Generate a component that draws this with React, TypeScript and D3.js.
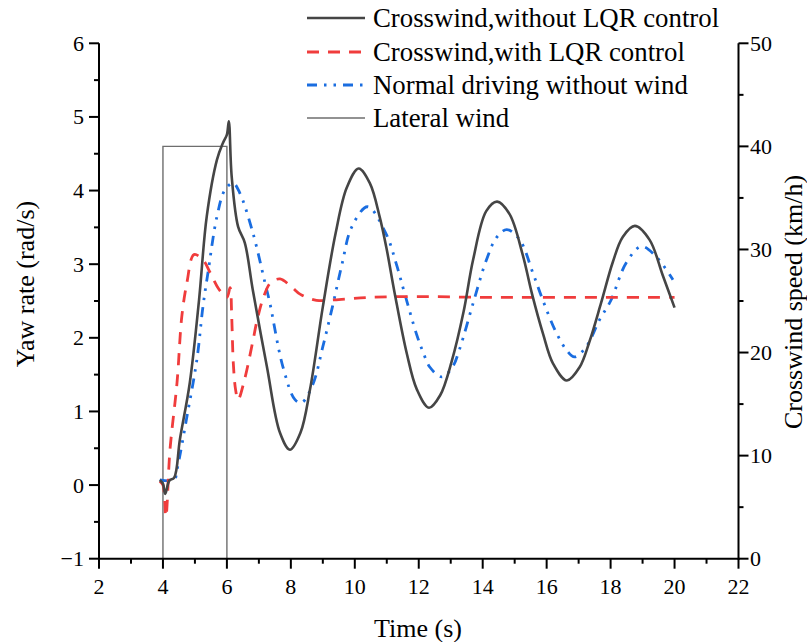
import React from "react";
import * as d3 from "d3";

const timeTicks = [2, 4, 6, 8, 10, 12, 14, 16, 18, 20, 22];
const yawTicks = [-1, 0, 1, 2, 3, 4, 5, 6];
const windTicks = [0, 10, 20, 30, 40, 50];

const seriesNames = [
  "Crosswind,without LQR control",
  "Crosswind,with LQR control",
  "Normal driving without wind",
  "Lateral wind",
];

const blackT = [3.9, 4.0, 4.07, 4.2, 4.35, 4.53, 4.84, 5.13, 5.37, 5.69, 5.88, 6.0, 6.06, 6.15, 6.35, 6.56, 6.81, 7.25, 7.66, 7.97, 8.3, 8.6, 9.0, 9.4, 9.75, 10.12, 10.47, 10.78, 10.99, 11.25, 11.63, 11.94, 12.32, 12.67, 13.03, 13.4, 13.7, 14.11, 14.45, 14.84, 15.25, 15.54, 15.89, 16.2, 16.63, 17.03, 17.34, 17.7, 18.07, 18.38, 18.76, 19.22, 19.63, 20.0];
const blackV = [0.07, 0.02, -0.12, 0.06, 0.1, 0.62, 1.39, 2.52, 3.65, 4.42, 4.65, 4.76, 4.94, 4.19, 3.51, 3.29, 2.65, 1.61, 0.71, 0.48, 0.71, 1.3, 2.42, 3.42, 4.04, 4.3, 4.1, 3.64, 3.22, 2.6, 1.78, 1.3, 1.05, 1.22, 1.68, 2.35, 3.06, 3.72, 3.85, 3.68, 3.13, 2.6, 2.05, 1.65, 1.42, 1.6, 1.95, 2.47, 3.03, 3.37, 3.52, 3.33, 2.85, 2.41];

const redT = [3.9, 4.0, 4.09, 4.22, 4.44, 4.59, 4.75, 4.97, 5.25, 5.47, 5.75, 6.0, 6.1, 6.15, 6.2, 6.27, 6.35, 6.55, 6.8, 6.95, 7.15, 7.37, 7.66, 8.0, 8.3, 8.8, 9.5, 10.5, 12.0, 14.0, 16.0, 18.0, 20.0];
const redV = [0.05, 0.0, -0.43, 0.48, 1.39, 2.29, 2.75, 3.13, 3.06, 2.89, 2.66, 2.55, 2.68, 2.29, 1.66, 1.3, 1.16, 1.43, 1.93, 2.25, 2.56, 2.75, 2.8, 2.7, 2.59, 2.51, 2.52, 2.55, 2.56, 2.55, 2.55, 2.55, 2.55];

const blueT = [3.9, 4.35, 4.44, 4.75, 5.06, 5.25, 5.41, 5.69, 5.94, 6.2, 6.4, 6.81, 7.19, 7.34, 7.75, 8.13, 8.34, 8.69, 9.0, 9.3, 9.6, 9.9, 10.4, 10.99, 11.3, 11.56, 11.93, 12.14, 12.35, 12.72, 13.05, 13.28, 13.7, 14.11, 14.43, 14.75, 15.16, 15.57, 15.89, 16.3, 16.61, 16.87, 17.24, 17.66, 18.0, 18.49, 18.96, 19.43, 19.95];
const blueV = [0.07, 0.07, 0.21, 0.93, 1.7, 2.42, 2.89, 3.65, 4.01, 4.1, 3.97, 3.43, 2.75, 2.48, 1.61, 1.16, 1.12, 1.37, 1.88, 2.42, 3.0, 3.5, 3.78, 3.4, 3.0, 2.6, 2.05, 1.8, 1.6, 1.47, 1.6, 1.85, 2.47, 3.05, 3.36, 3.47, 3.33, 2.88, 2.5, 2.07, 1.84, 1.74, 1.88, 2.25, 2.5, 3.02, 3.24, 3.1, 2.79];

const windT = [4, 4, 6, 6];
const windV = [0, 40, 40, 0];

const W = 807;
const H = 642;
const M = { left: 99, right: 738.5, top: 43.3, bottom: 558.7 };
const FONT = "'Liberation Serif', 'Times New Roman', serif";

export default function App() {
  const x = d3.scaleLinear().domain([2, 22]).range([M.left, M.right]);
  const y = d3.scaleLinear().domain([-1, 6]).range([M.bottom, M.top]);
  const y2 = d3.scaleLinear().domain([0, 50]).range([M.bottom, M.top]);

  const zip = (ts: number[], vs: number[]) => ts.map((t, i) => [t, vs[i]] as [number, number]);
  const line = d3
    .line<[number, number]>()
    .x((d) => x(d[0]))
    .y((d) => y(d[1]))
    .curve(d3.curveCatmullRom.alpha(0.5));
  const windLine = d3
    .line<[number, number]>()
    .x((d) => x(d[0]))
    .y((d) => y2(d[1]));

  const xMinor = d3.range(3, 22, 2);
  const yMinor = d3.range(-0.5, 6, 1);
  const y2Minor = d3.range(5, 50, 10);

  const legendStyles = [
    { stroke: "#454545", width: 2.6, dash: "" },
    { stroke: "#f03c3c", width: 2.8, dash: "12,9" },
    { stroke: "#1a6de0", width: 2.8, dash: "10,7,2.5,7,2.5,7" },
    { stroke: "#6e6e6e", width: 1.4, dash: "" },
  ];
  const legendY = [18, 52, 85, 118];

  return (
    <svg width={W} height={H} style={{ display: "block", position: "absolute", left: 0, top: 0, background: "#fff" }} fontFamily={FONT}>
      {/* lateral wind */}
      <path d={windLine(zip(windT, windV)) || ""} fill="none" stroke="#6e6e6e" strokeWidth={1.4} />
      {/* curves */}
      <path d={line(zip(blueT, blueV)) || ""} fill="none" stroke="#1a6de0" strokeWidth={2.8} strokeDasharray="10,7,2.5,7,2.5,7" />
      <path d={line(zip(redT, redV)) || ""} fill="none" stroke="#f03c3c" strokeWidth={2.8} strokeDasharray="12,9" />
      <path d={line(zip(blackT, blackV)) || ""} fill="none" stroke="#454545" strokeWidth={2.6} />

      {/* axes */}
      <g stroke="#000" strokeWidth={2}>
        <line x1={M.left} x2={M.left} y1={M.top} y2={M.bottom + 1} />
        <line x1={M.right} x2={M.right} y1={M.top} y2={M.bottom + 1} />
        <line x1={M.left - 1} x2={M.right + 1} y1={M.bottom} y2={M.bottom} />
        {timeTicks.map((t) => (
          <line key={"xt" + t} x1={x(t)} x2={x(t)} y1={M.bottom} y2={M.bottom + 10} />
        ))}
        {xMinor.map((t) => (
          <line key={"xm" + t} x1={x(t)} x2={x(t)} y1={M.bottom} y2={M.bottom + 5} />
        ))}
        {yawTicks.map((v) => (
          <line key={"yt" + v} x1={M.left - 10} x2={M.left} y1={y(v)} y2={y(v)} />
        ))}
        {yMinor.map((v) => (
          <line key={"ym" + v} x1={M.left - 5} x2={M.left} y1={y(v)} y2={y(v)} />
        ))}
        {windTicks.map((v) => (
          <line key={"wt" + v} x1={M.right} x2={M.right + 10} y1={y2(v)} y2={y2(v)} />
        ))}
        {y2Minor.map((v) => (
          <line key={"wm" + v} x1={M.right} x2={M.right + 5} y1={y2(v)} y2={y2(v)} />
        ))}
      </g>

      {/* tick labels */}
      <g fontSize={22} fill="#000">
        {timeTicks.map((t) => (
          <text key={"xl" + t} x={x(t)} y={594} textAnchor="middle">{t}</text>
        ))}
        {yawTicks.map((v) => (
          <text key={"yl" + v} x={84} y={y(v) + 7.5} textAnchor="end">{v < 0 ? "\u2212" + Math.abs(v) : v}</text>
        ))}
        {windTicks.map((v) => (
          <text key={"wl" + v} x={750} y={y2(v) + 7.5} textAnchor="start">{v}</text>
        ))}
      </g>

      {/* axis titles */}
      <g fontSize={26} fill="#000">
        <text x={418} y={637} textAnchor="middle">Time (s)</text>
        <text transform={`translate(34,284) rotate(-90)`} textAnchor="middle">Yaw rate (rad/s)</text>
        <text transform={`translate(802,302) rotate(-90)`} textAnchor="middle">Crosswind speed (km/h)</text>
      </g>

      {/* legend */}
      <g fontSize={26.8} fill="#000">
        {seriesNames.map((n, i) => (
          <g key={n}>
            <line x1={307} x2={365} y1={legendY[i]} y2={legendY[i]} stroke={legendStyles[i].stroke} strokeWidth={legendStyles[i].width} strokeDasharray={legendStyles[i].dash} />
            <text x={373} y={legendY[i] + 9}>{n}</text>
          </g>
        ))}
      </g>
    </svg>
  );
}
